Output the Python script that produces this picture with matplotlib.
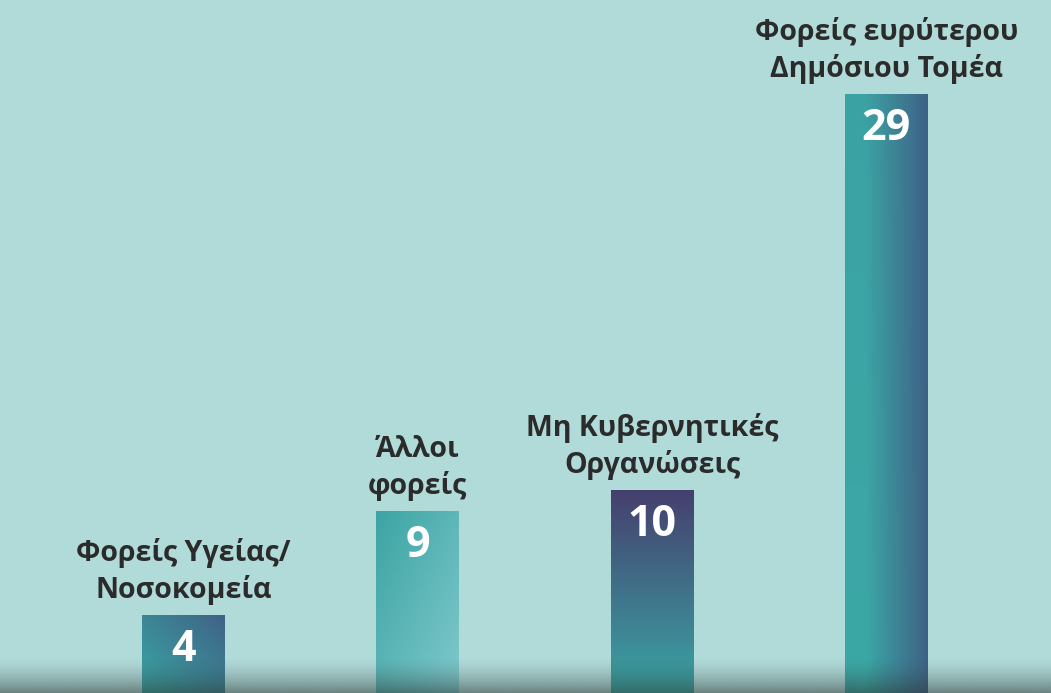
import numpy as np
import matplotlib
matplotlib.use("Agg")
import matplotlib.pyplot as plt

categories = ["Φορείς Υγείας/\nΝοσοκομεία", "Άλλοι\nφορείς",
              "Μη Κυβερνητικές\nΟργανώσεις", "Φορείς ευρύτερου\nΔημόσιου Τομέα"]
values = [4, 9, 10, 29]
value_labels = ["4", "9", "10", "29"]

BG = "#B1DBD9"
TEXT = "#2B2B2B"
FONT = ["Open Sans", "DejaVu Sans"]

fig = plt.figure(figsize=(10.51, 6.93), dpi=100)
fig.patch.set_facecolor(BG)
ax = fig.add_axes([0, 0, 1, 1])
ax.set_facecolor(BG)
ax.axis("off")

width = 0.354
x = np.arange(len(values))


def hex2rgb(h):
    h = h.lstrip("#")
    return np.array([int(h[i:i + 2], 16) / 255 for i in (0, 2, 4)])


def grad(c0, c1, direction, n=200):
    u = np.linspace(0, 1, n)
    X, Y = np.meshgrid(u, u)  # X: left->right, Y: top->bottom
    if direction == "diag_up":        # c0 bottom-left, c1 top-right
        t = (X + (1 - Y)) / 2
    elif direction == "diag_down":    # c0 top-left, c1 bottom-right
        t = (X + Y) / 2
    elif direction == "vertical":     # c0 top, c1 bottom
        t = Y
    else:                             # horizontal c0 left, c1 right
        t = np.clip((X - 0.25) / 0.75, 0, 1)
    a, b = hex2rgb(c0), hex2rgb(c1)
    return a + (b - a) * t[..., None]


grads = [
    ("#3AA8A6", "#3F6386", "diag_up"),
    ("#3CA4A3", "#80C9CC", "diag_down"),
    ("#463F6E", "#3AA8A6", "vertical"),
    ("#3BA8A6", "#3F6186", "horizontal"),
]

for xi, v, lab, (c0, c1, d) in zip(x, values, value_labels, grads):
    img = grad(c0, c1, d)
    if d == "horizontal":
        u = np.linspace(0, 1, img.shape[0])[:, None, None]
        img = img * (1 - 0.08 * (1 - u)) + hex2rgb("#3F6186") * 0.08 * (1 - u)
    ext = (xi - width / 2, xi + width / 2, 0, v)
    ax.imshow(img, extent=ext, aspect="auto", zorder=2, interpolation="bilinear")
    ax.text(xi, v - 1.65, lab, ha="center", va="center", color="white",
            fontsize=31, fontweight="bold", family=FONT, zorder=4)

for xi, v, lab in zip(x, values, categories):
    ax.text(xi, v + 0.5, lab, ha="center", va="bottom", color=TEXT,
            fontsize=20.5, fontweight="bold", family=FONT, linespacing=1.3,
            zorder=4)

# bottom shadow across the whole width
n = 100
alpha = np.linspace(0, 1, n) ** 1.6 * 0.55
shadow = np.zeros((n, 2, 4))
shadow[..., :3] = hex2rgb("#2E3A38")
shadow[..., 3] = alpha[:, None]
ax.imshow(shadow, extent=(-0.783, 3.703, 0.26, 2.0), aspect="auto",
          zorder=3, interpolation="bilinear")

ax.set_xlim(-0.783, 3.703)
ax.set_ylim(0.26, 33.545)
fig.savefig("out.png", dpi=100, facecolor=BG)
